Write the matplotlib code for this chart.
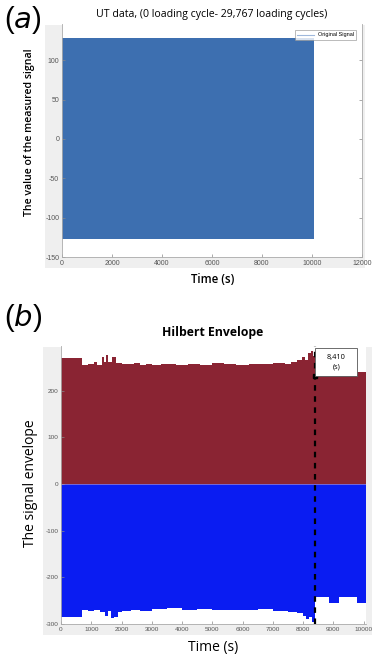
import matplotlib
matplotlib.use("Agg")
import matplotlib.pyplot as plt
from matplotlib.patches import Rectangle
import numpy as np

plt.rcParams["axes.unicode_minus"] = False

# ---------------- data ----------------
# Panel (a): raw UT signal (dense oscillation -> appears as a solid band)
sig_t = [0, 10080]
sig_max = [128, 128]
sig_min = [-127, -127]
a_xticks = [0, 2000, 4000, 6000, 8000, 10000, 12000]
a_yticks = [-150, -100, -50, 0, 50, 100]

# Panel (b): Hilbert envelope (upper / lower), step breakpoints
env_up_t = [0, 680, 900, 1100, 1200, 1340, 1420, 1480, 1560, 1680, 1830, 2000, 2400,
            2600, 2800, 3000, 3300, 3800, 4200, 4600, 5000, 5400, 5800, 6200, 6600,
            7000, 7400, 7600, 7800, 7950, 8050, 8150, 8250, 8330, 8410, 8600, 8900,
            9200, 9700, 10080]
env_up_v = [270, 256, 258, 262, 256, 272, 262, 276, 262, 273, 260, 257, 259,
            256, 258, 255, 258, 255, 258, 256, 259, 258, 256, 258, 257,
            259, 258, 262, 265, 272, 266, 280, 285, 275, 232, 238, 236,
            240, 240, 240]
env_lo_t = [0, 700, 900, 1100, 1300, 1470, 1550, 1650, 1750, 1900, 2000, 2300, 2600,
            3000, 3500, 4000, 4500, 5000, 5500, 6000, 6500, 7000, 7500, 7800, 8000,
            8100, 8200, 8300, 8410, 8850, 9180, 9780, 10080]
env_lo_v = [-285, -270, -272, -270, -275, -283, -272, -287, -285, -275, -272, -270, -272,
            -268, -266, -270, -268, -271, -270, -269, -268, -272, -274, -277, -283,
            -290, -286, -295, -243, -255, -242, -255, -255]
b_xticks = [0, 1000, 2000, 3000, 4000, 5000, 6000, 7000, 8000, 9000, 10000]
b_yticks = [-300, -200, -100, 0, 100, 200]
mark_t = 8410
mark_v = 232
mark_label = "8,410\n(s)"

# ---------------- figure ----------------
W, H = 373, 656
fig = plt.figure(figsize=(W / 100, H / 100), dpi=100)
fig.patch.set_facecolor("white")

def fr(x0, y0, x1, y1):
    return [x0 / W, 1 - y1 / H, (x1 - x0) / W, (y1 - y0) / H]

# gray MATLAB-like figure backgrounds (drawn on a background axes)
bg = fig.add_axes([0, 0, 1, 1], zorder=-5)
bg.set_xlim(0, W)
bg.set_ylim(H, 0)
bg.axis("off")
for (x0, y0, x1, y1) in [(45, 25, 365, 268), (43, 347, 372, 635)]:
    bg.add_patch(Rectangle((x0, y0), x1 - x0, y1 - y0, facecolor="#efefef",
                           edgecolor="none"))

font = "Open Sans"
tickfont = "Liberation Sans"
tickc = "#555555"

def style_ticks(ax, size):
    for lab in ax.get_xticklabels() + ax.get_yticklabels():
        lab.set_family(tickfont)
        lab.set_fontsize(size)

# ---------- panel (a) ----------
axa = fig.add_axes(fr(62, 24, 362, 257), zorder=2)
axa.set_facecolor("white")
axa.fill_between(sig_t, sig_min, sig_max, color="#3d6fb0", linewidth=0)
axa.plot([], [], color="#9fb8dc", lw=0.8, label="Original Signal")
axa.set_xlim(0, 12000)
axa.set_ylim(-150, 146)
axa.set_xticks(a_xticks)
axa.set_yticks(a_yticks)
axa.tick_params(direction="in", length=2.5, width=0.5, colors="#888888",
                labelcolor=tickc, pad=2, right=True)
style_ticks(axa, 5)
for s in ["left", "bottom", "right"]:
    axa.spines[s].set_color("#aaaaaa")
    axa.spines[s].set_linewidth(0.6)
axa.spines["top"].set_visible(False)
leg = axa.legend(loc="upper right", fontsize=4, frameon=True, fancybox=False,
                 borderpad=0.4, handlelength=3, bbox_to_anchor=(0.99, 0.985),
                 prop={"family": tickfont, "size": 4})
leg.get_frame().set_linewidth(0.5)
leg.get_frame().set_edgecolor("#888888")
fig.text(212 / W, 1 - 14 / H, "UT data, (0 loading cycle- 29,767 loading cycles)",
         ha="center", va="center", fontsize=7.6, family=font)
fig.text(30 / W, 1 - 132 / H, "The value of the measured signal", rotation=90,
         ha="center", va="center", fontsize=7.6, family=font, fontweight="semibold")
fig.text(213 / W, 1 - 280 / H, "Time (s)", ha="center", va="center", fontsize=8.3,
         family=font, fontweight="semibold")
fig.text(4 / W, 1 - 20 / H, r"($\it{a}$)", ha="left", va="center", fontsize=21,
         family="Liberation Sans")

# ---------- panel (b) ----------
axb = fig.add_axes(fr(61, 346, 366, 624), zorder=2)
axb.set_facecolor("white")
axb.fill_between(env_up_t, 0, env_up_v, step="post", color="#8a2433", linewidth=0)
axb.fill_between(env_lo_t, env_lo_v, 0, step="post", color="#0a1cf2", linewidth=0)
axb.axhline(0, color="#c8a0c0", lw=0.4)
axb.set_xlim(0, 10080)
axb.set_ylim(-300, 296)
axb.set_xticks(b_xticks)
axb.set_yticks(b_yticks)
axb.tick_params(direction="in", length=2.5, width=0.5, colors="#888888",
                labelcolor=tickc, pad=2)
style_ticks(axb, 4.6)
for s in ["left", "bottom"]:
    axb.spines[s].set_color("#aaaaaa")
    axb.spines[s].set_linewidth(0.6)
for s in ["top", "right"]:
    axb.spines[s].set_visible(False)
axb.axvline(mark_t, color="black", lw=1.6, ls=(0, (2.5, 2.5)))
axb.plot([mark_t], [mark_v], marker="s", color="black", ms=3.5)
# datatip box
bw, bh = 1380, 60
axb.add_patch(Rectangle((mark_t, mark_v), bw, bh, facecolor="white", edgecolor="#555555",
                        lw=0.6, zorder=5, clip_on=False))
axb.text(mark_t + bw / 2, mark_v + bh / 2, mark_label, ha="center", va="center",
         fontsize=5.3, family=font, zorder=6, linespacing=1.5)
fig.text(213 / W, 1 - 333 / H, "Hilbert Envelope", ha="center", va="center",
         fontsize=8.8, family=font, fontweight="bold")
fig.text(30 / W, 1 - 483 / H, "The signal envelope", rotation=90, ha="center",
         va="center", fontsize=10, family=font)
fig.text(213 / W, 1 - 647 / H, "Time (s)", ha="center", va="center", fontsize=10,
         family=font)
fig.text(4 / W, 1 - 318 / H, r"($\it{b}$)", ha="left", va="center", fontsize=21,
         family="Liberation Sans")

fig.savefig("out.png", dpi=100)
